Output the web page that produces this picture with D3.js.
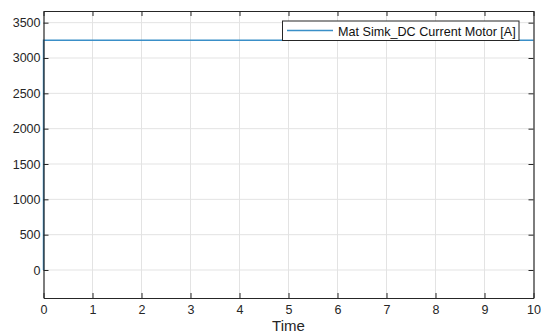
<!DOCTYPE html>
<html><head><meta charset="utf-8">
<script src="https://cdn.jsdelivr.net/npm/d3@7"></script>
<style>body{margin:0;background:#fff;}svg{display:block;}</style>
</head><body>
<svg id="c" width="541" height="333"></svg>
<script>
const time = [0, 0.001, 10];
const current = [0, 3250, 3250];
const xTicks = [0,1,2,3,4,5,6,7,8,9,10];
const yTicks = [0,500,1000,1500,2000,2500,3000,3500];
const seriesName = "Mat Simk_DC Current Motor [A]";
const xLabel = "Time";

const svg = d3.select("#c");
const L = 43.5, R = 533.5, T = 11, B = 298;
const x = d3.scaleLinear().domain([0,10]).range([L,R]);
const y = d3.scaleLinear().domain([-396,3665]).range([B,T]);
const font = "'Liberation Sans', Arial, sans-serif";
const axisColor = "#262626";

// grid
svg.append("g").selectAll("line").data(xTicks.slice(1,-1)).join("line")
  .attr("x1",d=>x(d)).attr("x2",d=>x(d)).attr("y1",T).attr("y2",B)
  .attr("stroke","#e3e3e3").attr("stroke-width",1);
svg.append("g").selectAll("line").data(yTicks).join("line")
  .attr("x1",L).attr("x2",R).attr("y1",d=>y(d)).attr("y2",d=>y(d))
  .attr("stroke","#e3e3e3").attr("stroke-width",1);

// data line
svg.append("path").datum(time.map((t,i)=>[t,current[i]]))
  .attr("d", d3.line().x(d=>x(d[0])).y(d=>y(d[1])))
  .attr("fill","none").attr("stroke","#3a8fc8").attr("stroke-width",1.5);

// axes
const fmt = d3.format("d");
const xb = d3.axisBottom(x).tickValues(xTicks).tickFormat(fmt).tickSizeInner(-5).tickSizeOuter(0).tickPadding(7);
const xt = d3.axisTop(x).tickValues(xTicks).tickSizeInner(-5).tickSizeOuter(0).tickFormat("");
const yl = d3.axisLeft(y).tickValues(yTicks).tickFormat(fmt).tickSizeInner(-5).tickSizeOuter(0).tickPadding(3);
const yr = d3.axisRight(y).tickValues(yTicks).tickSizeInner(-5).tickSizeOuter(0).tickFormat("");
function style(g){
  g.select(".domain").attr("stroke",axisColor);
  g.selectAll(".tick line").attr("stroke",axisColor);
  g.selectAll(".tick text").attr("fill",axisColor).style("font-family",font).style("font-size","12.5px");
}
svg.append("g").attr("transform",`translate(0,${B})`).call(xb).call(style);
svg.append("g").attr("transform",`translate(0,${T})`).call(xt).call(style);
svg.append("g").attr("transform",`translate(${L},0)`).call(yl).call(style);
svg.append("g").attr("transform",`translate(${R},0)`).call(yr).call(style);
svg.selectAll(".domain").attr("stroke-width",1.2);

// x label
svg.append("text").attr("x",(L+R)/2).attr("y",331).attr("text-anchor","middle")
  .attr("fill",axisColor).style("font-family",font).style("font-size","15px").text(xLabel);

// legend
const lg = svg.append("g");
lg.append("rect").attr("x",282.5).attr("y",21).attr("width",236.5).attr("height",19.5)
  .attr("fill","#fff").attr("stroke",axisColor).attr("stroke-width",1);
lg.append("line").attr("x1",287).attr("x2",333).attr("y1",30.5).attr("y2",30.5)
  .attr("stroke","#3a8fc8").attr("stroke-width",1.5);
lg.append("text").attr("x",338).attr("y",35.5).attr("fill","#111")
  .style("font-family",font).style("font-size","12.6px").text(seriesName);
</script>
</body></html>
